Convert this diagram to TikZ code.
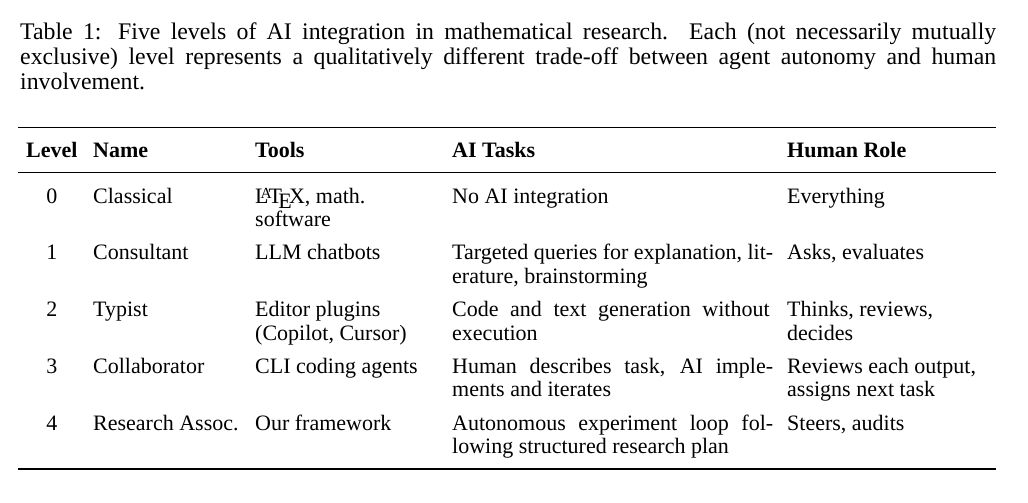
\documentclass[tikz,border=0pt]{standalone}
\usepackage{fontspec}
\setmainfont{Liberation Serif}
\newcommand\jline[2]{\makebox[#1][s]{#2}}
\tikzset{
  captxt/.style={anchor=base west, inner sep=0pt, font=\fontsize{23.8}{24}\selectfont},
  celltxt/.style={anchor=base west, inner sep=0pt, font=\fontsize{22}{24}\selectfont},
  headtxt/.style={anchor=base west, inner sep=0pt, font=\fontsize{22}{24}\selectfont\bfseries},
  numtxt/.style={anchor=base, inner sep=0pt, font=\fontsize{22}{24}\selectfont},
  heavyrule/.style={line width=1.8pt},
  lightrule/.style={line width=1.1pt}
}
\begin{document}
\begin{tikzpicture}[x=1pt,y=-1pt]
\useasboundingbox (0,0) rectangle (1028,503);
% caption
\node[captxt] (c1) at (20,40) {\jline{976pt}{Table 1: Five levels of AI integration in mathematical research. Each (not necessarily mutually}};
\node[captxt] (c2) at (20,64.5) {\jline{976pt}{exclusive) level represents a qualitatively different trade-off between agent autonomy and human}};
\node[captxt] (c3) at (20,89) {involvement.};
% rules
\coordinate (tl) at (18.3,127.5); \coordinate (tr) at (995.7,127.5);
\coordinate (ml) at (18.3,172.5); \coordinate (mr) at (995.7,172.5);
\coordinate (bl) at (18.3,469.3); \coordinate (br) at (995.7,469.3);
\draw[heavyrule] (tl) -- (tr);
\draw[lightrule] (ml) -- (mr);
\draw[heavyrule] (bl) -- (br);
% header
\node[headtxt, anchor=base] (hlev) at (51.8,157.5) {Level};
\node[headtxt] (hname) at (93,157.5) {Name};
\node[headtxt] (htools) at (255,157.5) {Tools};
\node[headtxt] (htasks) at (452,157.5) {AI Tasks};
\node[headtxt] (hrole) at (787,157.5) {Human Role};
% row 0
\node[numtxt] (l0) at (51.8,203) {0};
\node[celltxt] (n0) at (93,203) {Classical};
\node[celltxt] (t0a) at (255,203) {\LaTeX, math.};
\node[celltxt] (t0b) at (255,226.7) {software};
\node[celltxt] (a0) at (452,203) {No AI integration};
\node[celltxt] (r0) at (787,203) {Everything};
% row 1
\node[numtxt] (l1) at (51.8,259.5) {1};
\node[celltxt] (n1) at (93,259.5) {Consultant};
\node[celltxt] (t1) at (255,259.5) {LLM chatbots};
\node[celltxt] (a1a) at (452,259.5) {\jline{321pt}{Targeted queries for explanation, lit-}};
\node[celltxt] (a1b) at (452,283.2) {erature, brainstorming};
\node[celltxt] (r1) at (787,259.5) {Asks, evaluates};
% row 2
\node[numtxt] (l2) at (51.8,316.3) {2};
\node[celltxt] (n2) at (93,316.3) {Typist};
\node[celltxt] (t2a) at (255,316.3) {Editor plugins};
\node[celltxt] (t2b) at (255,340) {(Copilot, Cursor)};
\node[celltxt] (a2a) at (452,316.3) {\jline{317.5pt}{Code and text generation without}};
\node[celltxt] (a2b) at (452,340) {execution};
\node[celltxt] (r2a) at (787,316.3) {Thinks, reviews,};
\node[celltxt] (r2b) at (787,340) {decides};
% row 3
\node[numtxt] (l3) at (51.8,373.1) {3};
\node[celltxt] (n3) at (93,373.1) {Collaborator};
\node[celltxt] (t3) at (255,373.1) {CLI coding agents};
\node[celltxt] (a3a) at (452,373.1) {\jline{321pt}{Human describes task, AI imple-}};
\node[celltxt] (a3b) at (452,396.8) {ments and iterates};
\node[celltxt] (r3a) at (787,373.1) {Reviews each output,};
\node[celltxt] (r3b) at (787,396.8) {assigns next task};
% row 4
\node[numtxt] (l4) at (51.8,430) {4};
\node[celltxt] (n4) at (93,430) {Research Assoc.};
\node[celltxt] (t4) at (255,430) {Our framework};
\node[celltxt] (a4a) at (452,430) {\jline{321pt}{Autonomous experiment loop fol-}};
\node[celltxt] (a4b) at (452,453.7) {lowing structured research plan};
\node[celltxt] (r4) at (787,430) {Steers, audits};
\end{tikzpicture}
\end{document}
